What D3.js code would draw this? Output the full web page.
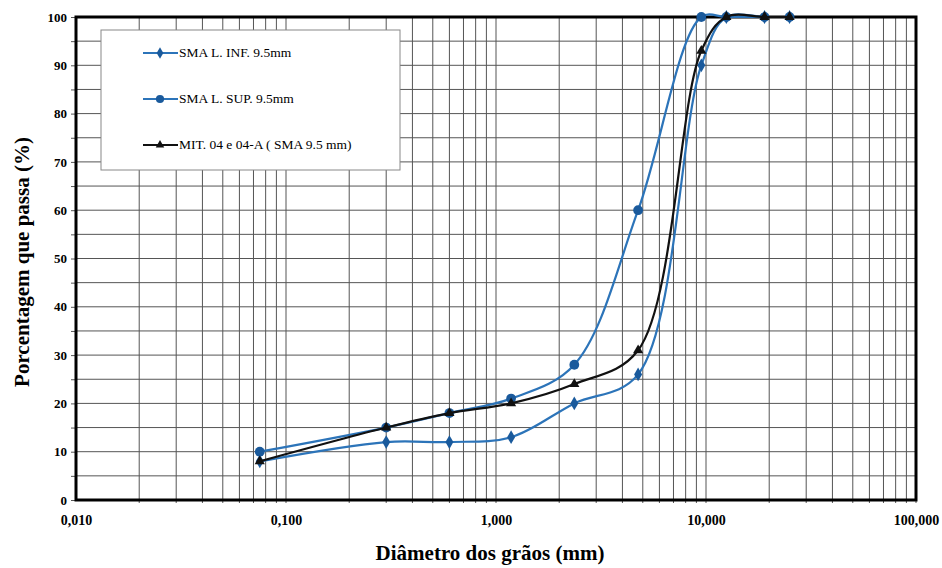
<!DOCTYPE html>
<html>
<head>
<meta charset="utf-8">
<script src="https://cdn.jsdelivr.net/npm/d3@7"></script>
<style>
  body { margin: 0; background: #fff; }
  text { font-family: "Liberation Serif", "Times New Roman", serif; }
</style>
</head>
<body>
<div id="chart"></div>
<script>
// sieve sizes (mm)
var sieves = [0.075, 0.3, 0.6, 1.18, 2.36, 4.75, 9.5, 12.5, 19, 25];
var infValues = [8, 12, 12, 13, 20, 26, 90, 100, 100, 100];
var supValues = [10, 15, 18, 21, 28, 60, 100, 100, 100, 100];
var mitValues = [8, 15, 18, 20, 24, 31, 93, 100, 100, 100];
var seriesNames = ["SMA L. INF. 9.5mm", "SMA L. SUP. 9.5mm", "MIT. 04 e 04-A ( SMA 9.5 mm)"];
var xTicks = [0.01, 0.1, 1, 10, 100];
var xTickLabels = ["0,010", "0,100", "1,000", "10,000", "100,000"];
var yTicks = [0, 10, 20, 30, 40, 50, 60, 70, 80, 90, 100];

var width = 942, height = 568;
var pLeft = 76, pRight = 916, pTop = 17, pBottom = 500;

var svg = d3.select('#chart').append("svg")
  .attr("width", width)
  .attr("height", height);

var x = d3.scaleLog().domain([0.01, 100]).range([pLeft, pRight]);
var y = d3.scaleLinear().domain([0, 100]).range([pBottom, pTop]);

// grid
var minor = [];
for (var e = -2; e < 2; e++) {
  for (var k = 1; k <= 9; k++) {
    var v = k * Math.pow(10, e);
    if (v > 0.01) minor.push(v);
  }
}
minor.push(100);
svg.append("g").selectAll("line").data(minor).enter().append("line")
  .attr("x1", function(d) { return x(d); })
  .attr("x2", function(d) { return x(d); })
  .attr("y1", pTop).attr("y2", pBottom + 3)
  .attr("stroke", "#555").attr("stroke-width", 1);

var yGrid = d3.range(5, 100, 5);
svg.append("g").selectAll("line").data(yGrid).enter().append("line")
  .attr("x1", pLeft).attr("x2", pRight)
  .attr("y1", function(d) { return y(d); })
  .attr("y2", function(d) { return y(d); })
  .attr("stroke", "#555").attr("stroke-width", 1);

// axes
var xAxis = d3.axisBottom(x).tickValues(xTicks)
  .tickFormat(function(d, i) { return xTickLabels[i]; })
  .tickSize(0).tickPadding(15);
var gx = svg.append("g")
  .attr("transform", "translate(0," + pBottom + ")")
  .call(xAxis);
gx.select(".domain").remove();
gx.selectAll("text").attr("font-size", 14).attr("font-weight", "bold")
  .attr("font-family", "Liberation Serif").attr("fill", "#000");

var yAxis = d3.axisLeft(y).tickValues(d3.range(0, 101, 5))
  .tickFormat(function(d) { return d % 10 == 0 ? d : ""; })
  .tickSize(5).tickPadding(4);
var gy = svg.append("g")
  .attr("transform", "translate(" + pLeft + ",0)")
  .call(yAxis);
gy.select(".domain").remove();
gy.selectAll("line").attr("stroke", "#555");
gy.selectAll("text").attr("font-size", 13).attr("font-weight", "bold")
  .attr("font-family", "Liberation Serif").attr("fill", "#000");

// frame
svg.append("rect")
  .attr("x", pLeft).attr("y", pTop)
  .attr("width", pRight - pLeft).attr("height", pBottom - pTop)
  .attr("fill", "none").attr("stroke", "#000").attr("stroke-width", 3);

// titles
svg.append("text")
  .attr("x", 490).attr("y", 560)
  .attr("text-anchor", "middle")
  .attr("font-size", 21).attr("font-weight", "bold")
  .text("Diâmetro dos grãos (mm)");
svg.append("text")
  .attr("transform", "translate(29,262) rotate(-90)")
  .attr("text-anchor", "middle")
  .attr("font-size", 21).attr("font-weight", "bold")
  .text("Porcentagem que passa (%)");

// lines
var line = d3.line()
  .x(function(d) { return x(d.x); })
  .y(function(d) { return y(d.y); })
  .curve(d3.curveCatmullRom.alpha(0.5));

function toPoints(vals) {
  var data = [];
  for (var i = 0; i < sieves.length; i++) data.push({ x: sieves[i], y: vals[i] });
  return data;
}

var series = [
  { name: seriesNames[0], vals: infValues, line: "#2c74b9", mark: "#1a5a9c", shape: d3.symbolDiamond, size: 55 },
  { name: seriesNames[1], vals: supValues, line: "#2c74b9", mark: "#1a5a9c", shape: d3.symbolCircle, size: 75 },
  { name: seriesNames[2], vals: mitValues, line: "#111", mark: "#111", shape: d3.symbolTriangle, size: 45 }
];

series.forEach(function(s) {
  var data = toPoints(s.vals);
  svg.append('path')
    .attr('d', line(data))
    .attr('stroke', s.line)
    .attr('stroke-width', 2.2)
    .attr('fill', 'none');
  svg.append("g").selectAll("path").data(data).enter().append("path")
    .attr("transform", function(d) { return "translate(" + x(d.x) + "," + y(d.y) + ")"; })
    .attr("d", d3.symbol().type(s.shape).size(s.size))
    .attr("fill", s.mark);
});

// legend
var lg = svg.append("g");
lg.append("rect")
  .attr("x", 101).attr("y", 30).attr("width", 299).attr("height", 140)
  .attr("fill", "#fff").attr("stroke", "#888").attr("stroke-width", 1);
series.forEach(function(s, i) {
  var ly = 53 + i * 46;
  lg.append("line")
    .attr("x1", 143).attr("x2", 178).attr("y1", ly).attr("y2", ly)
    .attr("stroke", s.line).attr("stroke-width", 2.2);
  lg.append("path")
    .attr("transform", "translate(160," + ly + ")")
    .attr("d", d3.symbol().type(s.shape).size(s.size * 0.7))
    .attr("fill", s.mark);
  lg.append("text")
    .attr("x", 179).attr("y", ly + 4)
    .attr("font-size", 13.5)
    .text(s.name);
});
</script>
</body>
</html>
